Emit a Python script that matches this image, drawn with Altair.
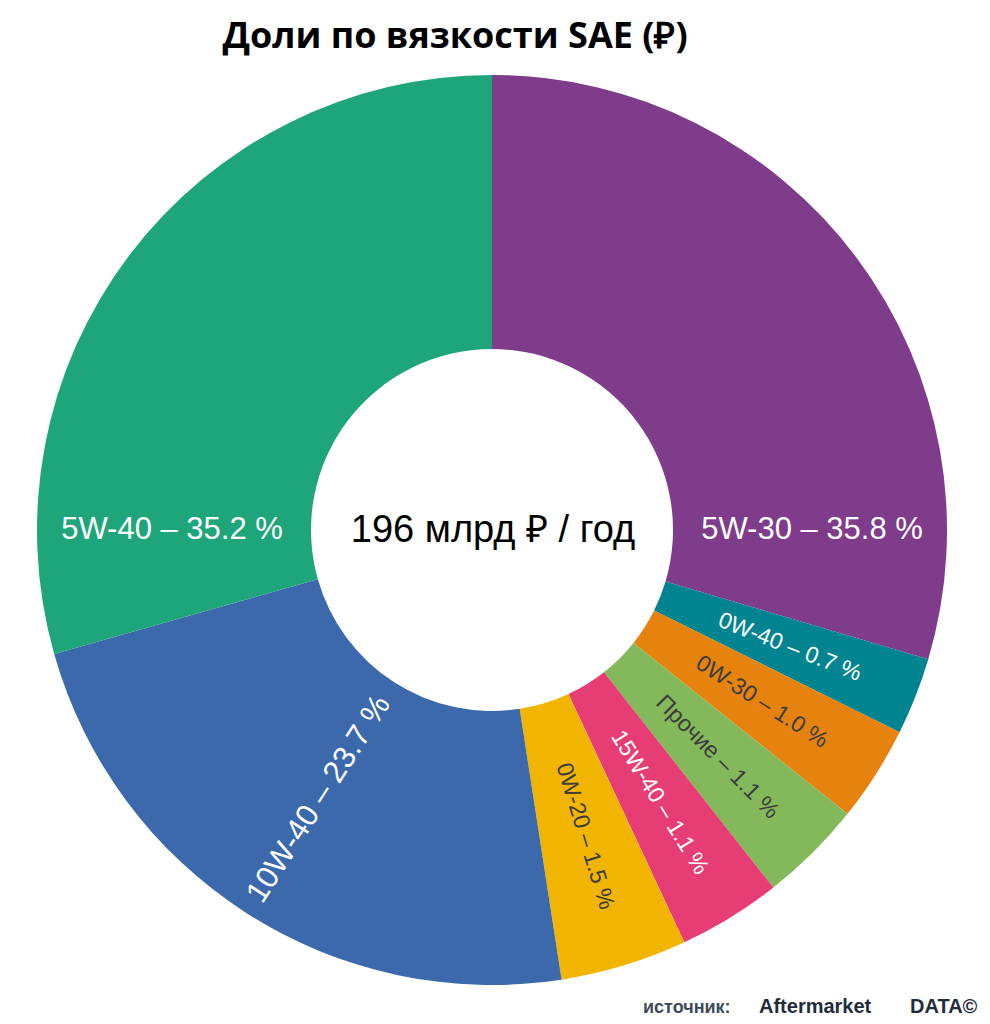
import altair as alt
import pandas as pd

# ---- data ----
categories = ["5W-30", "0W-40", "0W-30", "Прочие", "15W-40", "0W-20", "10W-40", "5W-40"]
share_pct = [35.8, 0.7, 1.0, 1.1, 1.1, 1.5, 23.7, 35.2]
# drawn size of each slice in the picture (degrees of the ring)
slice_deg = [106.5, 9.9, 12.2, 13.2, 13.2, 16.2, 83.0, 105.8]
slice_colors = ["#7E3C8B", "#00848F", "#E6830F", "#83B95A", "#E63E74", "#F1B500", "#3B69AB", "#1FA57A"]
label_colors = ["#FFFFFF", "#FFFFFF", "#3C3C3C", "#3C3C3C", "#FFFFFF", "#3C3C3C", "#FFFFFF", "#FFFFFF"]

title_text = ["Доли по вязкости SAE (₽)"]
center_text = ["196 млрд ₽ / год"]
source_label = ["источник:"]
brand_a = ["Aftermarket"]
brand_b = ["DATA©"]

# ---- layout ----
CX, CY = 484, 522
R_IN, R_OUT = 181, 455
R_LAB = 320

rows = []
start = 0.0
for i, (c, p, d, tc) in enumerate(zip(categories, share_pct, slice_deg, label_colors)):
    end = start + d
    mid = (start + end) / 2
    if start <= 90 <= end:
        lt, ang = 90.0, 0.0
    elif start <= 270 <= end:
        lt, ang = 270.0, 0.0
    else:
        lt = mid
        ang = (mid - 90) if mid < 180 else (mid + 90) % 360
    rows.append({
        "idx": i, "cat": c, "deg": d,
        "label": f"{c} – {p:.1f} %",
        "lt": lt * 3.141592653589793 / 180.0,
        "ang": ang,
        "fs": 31 if d > 60 else 23,
        "tc": tc,
    })
    start = end
df = pd.DataFrame(rows)

base = alt.Chart(df)

arcs = base.mark_arc(innerRadius=R_IN, outerRadius=R_OUT).encode(
    theta=alt.Theta("deg:Q", stack=True),
    order=alt.Order("idx:Q"),
    color=alt.Color("cat:N", scale=alt.Scale(domain=categories, range=slice_colors), legend=None),
    x=alt.value(CX),
    y=alt.value(CY),
)

labels = base.mark_text(radius=R_LAB, font="Liberation Sans", baseline="middle", align="center").encode(
    theta=alt.Theta("lt:Q", scale=None, stack=False),
    angle=alt.Angle("ang:Q", scale=None),
    size=alt.Size("fs:Q", scale=None),
    color=alt.Color("tc:N", scale=None),
    text="label:N",
    x=alt.value(CX),
    y=alt.value(CY),
)

center = alt.Chart(pd.DataFrame({"t": center_text})).mark_text(
    font="Liberation Sans", fontSize=38, color="#000000", align="center", baseline="alphabetic"
).encode(text="t:N", x=alt.value(CX + 1), y=alt.value(534))

title = alt.Chart(pd.DataFrame({"t": title_text})).mark_text(
    font="Open Sans", fontSize=36, fontWeight="bold", color="#000000", align="center", baseline="alphabetic"
).encode(text="t:N", x=alt.value(447), y=alt.value(40))

src = alt.Chart(pd.DataFrame({"t": source_label})).mark_text(
    font="Liberation Sans", fontSize=18, fontWeight="bold", color="#3B4A5A", align="left", baseline="alphabetic"
).encode(text="t:N", x=alt.value(635), y=alt.value(1005))

ba = alt.Chart(pd.DataFrame({"t": brand_a})).mark_text(
    font="Liberation Sans", fontSize=20, fontWeight="bold", color="#1F2C3B", align="left", baseline="alphabetic"
).encode(text="t:N", x=alt.value(751), y=alt.value(1005))

bb = alt.Chart(pd.DataFrame({"t": brand_b})).mark_text(
    font="Liberation Sans", fontSize=20, fontWeight="bold", color="#1F2C3B", align="left", baseline="alphabetic"
).encode(text="t:N", x=alt.value(902), y=alt.value(1005))

chart = alt.layer(arcs, labels, center, title, src, ba, bb).properties(
    width=974, height=1008, padding=0, autosize=alt.AutoSizeParams(type="none")
).configure_view(strokeWidth=0)

chart.save("out.html", embed_options={"renderer": "svg", "actions": False})
